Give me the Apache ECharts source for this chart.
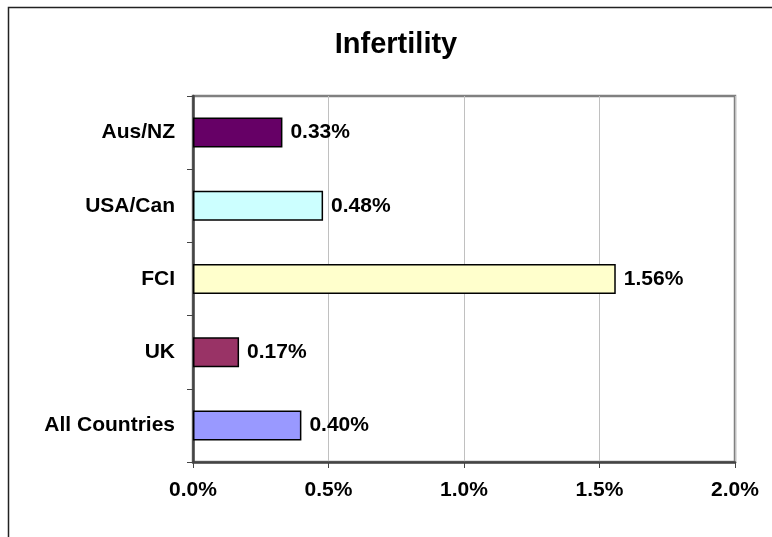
<!DOCTYPE html>
<html><head><meta charset="utf-8">
<script src="https://cdn.jsdelivr.net/npm/echarts@6/dist/echarts.min.js"></script>
<style>html,body{margin:0;padding:0;background:#fff}#c{width:772px;height:537px}</style>
</head><body><div id="c"></div>
<script>
const title = 'Infertility';
const categories = ['All Countries', 'UK', 'FCI', 'USA/Can', 'Aus/NZ'];
const values = [0.40, 0.17, 1.56, 0.48, 0.33];
const colors = ['#9999FF', '#993366', '#FFFFCC', '#CCFFFF', '#660066'];
const xTicks = [0, 0.5, 1.0, 1.5, 2.0];

const chart = echarts.init(document.getElementById('c'));
const font = '"Liberation Sans", Arial, sans-serif';
chart.setOption({
  animation: false,
  textStyle: { fontFamily: font },
  title: { text: title, top: 25, left: 391, textAlign: 'center',
    textStyle: { fontFamily: font, fontWeight: 'bold', fontSize: 29, color: '#000' } },
  graphic: [{ type: 'rect', shape: { x: 8.5, y: 7.5, width: 900, height: 700 },
    style: { fill: 'none', stroke: '#222', lineWidth: 1.5 }, silent: true, z: -1 }],
  grid: { left: 193, right: 37, top: 96, bottom: 75, show: true,
    borderColor: '#808080', borderWidth: 2.5, backgroundColor: 'transparent' },
  xAxis: {
    type: 'value', min: xTicks[0], max: xTicks[xTicks.length - 1], interval: 0.5,
    axisLine: { show: true, lineStyle: { color: '#444', width: 2.5 } },
    axisTick: { show: true, length: 6, lineStyle: { color: '#444', width: 1 } },
    splitLine: { show: true, lineStyle: { color: '#c0c0c0', width: 1 } },
    axisLabel: { formatter: v => v.toFixed(1) + '%', margin: 18,
      fontFamily: font, fontWeight: 'bold', fontSize: 21, color: '#000' }
  },
  yAxis: {
    type: 'category', data: categories,
    axisLine: { show: true, lineStyle: { color: '#444', width: 2.5 } },
    axisTick: { show: true, length: 6, lineStyle: { color: '#444', width: 1 } },
    axisLabel: { margin: 18, fontFamily: font, fontWeight: 'bold', fontSize: 21, color: '#000' }
  },
  series: [{
    type: 'bar', barWidth: 30,
    data: values.map((v, i) => ({ value: v, itemStyle: { color: colors[i] } })),
    itemStyle: { borderColor: '#000', borderWidth: 1.5 },
    label: { show: true, position: 'right', distance: 8, formatter: p => p.value.toFixed(2) + '%',
      fontFamily: font, fontWeight: 'bold', fontSize: 21, color: '#000' }
  }]
});
</script></body></html>
